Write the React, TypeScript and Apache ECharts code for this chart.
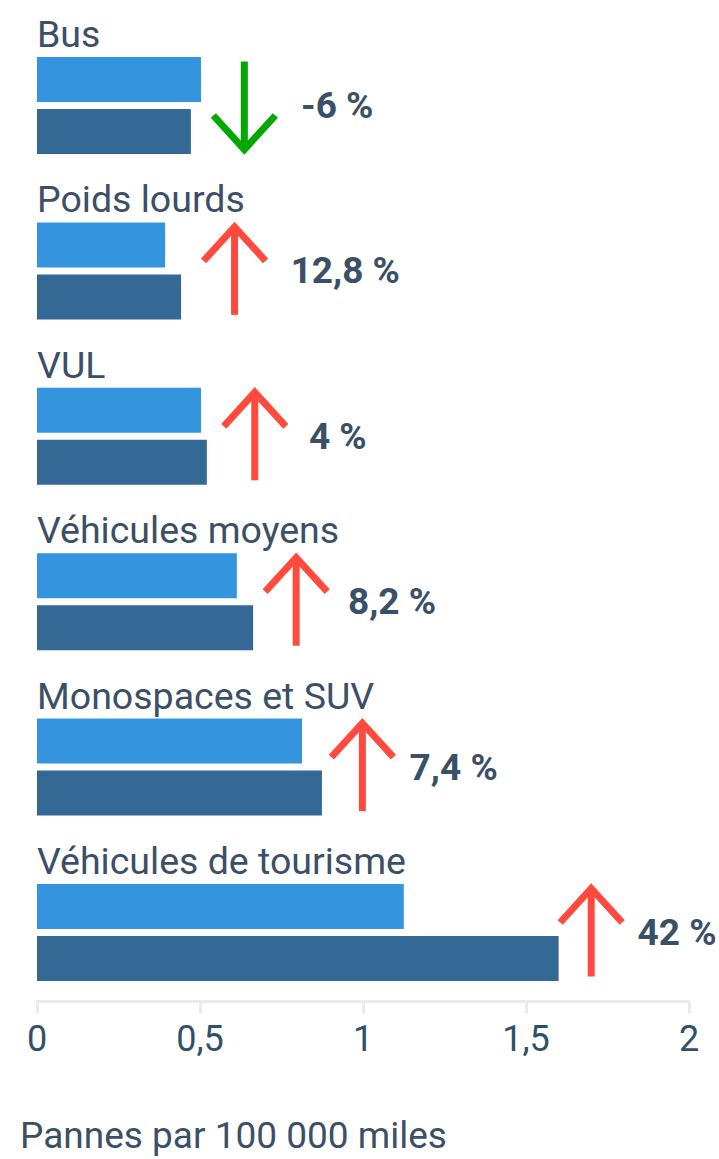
import React, { useEffect, useRef } from "react";
import * as echarts from "echarts";

const categories = [
  "Bus",
  "Poids lourds",
  "VUL",
  "Véhicules moyens",
  "Monospaces et SUV",
  "Véhicules de tourisme",
];
const previousValues = [0.503, 0.393, 0.503, 0.613, 0.813, 1.125];
const currentValues = [0.472, 0.442, 0.521, 0.663, 0.874, 1.6];
const changes = [-6, 12.8, 4, 8.2, 7.4, 42];
const arrowAt = [0.636, 0.606, 0.668, 0.795, 0.998, 1.7];
const labelAt = [0.81, 0.778, 0.834, 0.954, 1.143, 1.842];
const xTicks = [0, 0.5, 1, 1.5, 2];
const axisTitle = "Pannes par 100 000 miles";

const TEXT = "#3b4f66";
const TICK_TEXT = "#2f5069";
const LIGHT = "#3494de";
const DARK = "#336994";
const UP = "#ff4a3d";
const DOWN = "#00a800";
const AXIS = "#ebebeb";

const fmt = (v: number) => String(v).replace(".", ",");

export default function App() {
  const ref = useRef<HTMLDivElement>(null);
  useEffect(() => {
    if (!ref.current) return;
    const chart = echarts.init(ref.current, null, { renderer: "svg" });
    const annot = categories.map((_, i) => [arrowAt[i], i, changes[i], labelAt[i]]);
    chart.setOption({
      animation: false,
      textStyle: { fontFamily: "Roboto" },
      grid: { left: 37, right: 30, top: 22.8, bottom: 143.8, containLabel: false },
      xAxis: {
        type: "value",
        min: xTicks[0],
        max: xTicks[xTicks.length - 1],
        interval: 0.5,
        offset: -14,
        axisLine: { show: true, lineStyle: { color: AXIS, width: 3 } },
        axisTick: { show: true, length: 12, lineStyle: { color: AXIS, width: 3 } },
        splitLine: { show: false },
        axisLabel: {
          margin: 20,
          fontSize: 36,
          color: TICK_TEXT,
          fontFamily: "Roboto",
          formatter: (v: number) => fmt(v),
        },
      },
      yAxis: {
        type: "category",
        data: categories,
        inverse: true,
        axisLine: { show: false },
        axisTick: { show: false },
        axisLabel: { show: false },
        splitLine: { show: false },
      },
      graphic: [
        {
          type: "text",
          left: 20,
          top: 1117,
          style: { text: axisTitle, fontSize: 37, fill: TEXT, fontFamily: "Roboto" },
        },
      ],
      series: [
        {
          type: "bar",
          name: "previous",
          data: previousValues,
          barWidth: 45,
          barGap: "15.5%",
          itemStyle: { color: LIGHT },
          label: {
            show: true,
            position: [0, -23],
            align: "left",
            verticalAlign: "middle",
            fontSize: 37.5,
            color: TEXT,
            fontFamily: "Roboto",
            formatter: (p: any) => categories[p.dataIndex],
          },
        },
        {
          type: "bar",
          name: "current",
          data: currentValues,
          barWidth: 45,
          barGap: "15.5%",
          itemStyle: { color: DARK },
        },
        {
          type: "custom",
          name: "change",
          data: annot,
          z: 10,
          renderItem: (params: any, api: any) => {
            const p = api.coord([api.value(0), api.value(1)]);
            const lp = api.coord([api.value(3), api.value(1)]);
            const ch = api.value(2) as number;
            const up = ch >= 0;
            const color = up ? UP : DOWN;
            const x = p[0];
            const cy = p[1];
            const half = 44;
            const tipY = up ? cy - half : cy + half;
            const armY = up ? tipY + 34 : tipY - 34;
            const st = { stroke: color, lineWidth: 7, fill: "none", lineCap: "butt", lineJoin: "miter" };
            return {
              type: "group",
              children: [
                { type: "line", shape: { x1: x, y1: cy - half, x2: x, y2: cy + half }, style: st },
                {
                  type: "polyline",
                  shape: { points: [[x - 31, armY], [x, tipY], [x + 31, armY]] },
                  style: st,
                },
                {
                  type: "text",
                  x: lp[0],
                  y: cy,
                  style: {
                    text: fmt(ch) + " %",
                    fontSize: 37,
                    fontWeight: "bold",
                    fontFamily: "Roboto",
                    fill: TEXT,
                    align: "left",
                    verticalAlign: "middle",
                  },
                },
              ],
            };
          },
        },
      ],
    });
    return () => chart.dispose();
  }, []);
  return (
    <div
      ref={ref}
      style={{ position: "absolute", left: 0, top: 0, width: 719, height: 1159 }}
    />
  );
}
